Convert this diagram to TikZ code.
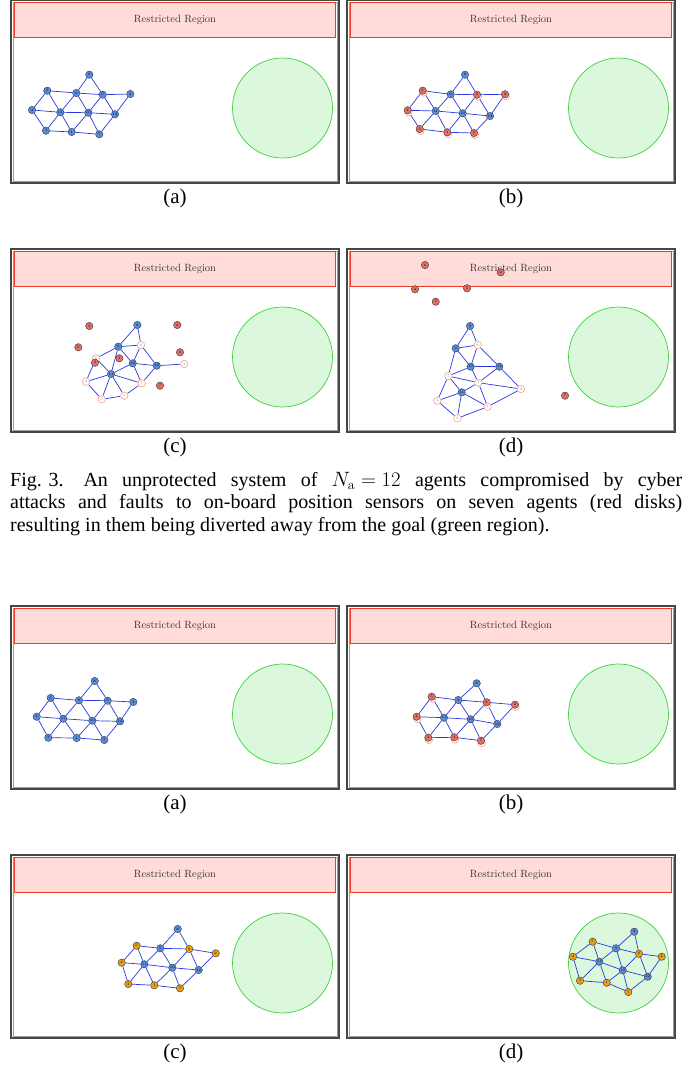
\documentclass[tikz,border=0pt]{standalone}
\usepackage{fontspec}
\newfontfamily\capfont{Liberation Serif}
\usetikzlibrary{calc}
\definecolor{agentblue}{HTML}{5A8CDC}
\definecolor{agentred}{HTML}{E86E5F}
\definecolor{agentorange}{HTML}{E6A117}
\definecolor{nodeedge}{HTML}{2E3440}
\definecolor{ghostpink}{HTML}{F2A091}
\definecolor{linkblue}{HTML}{2838E0}
\definecolor{zonefill}{HTML}{FFDCDA}
\definecolor{zoneedge}{HTML}{EB3C28}
\definecolor{goalfill}{HTML}{DCF8DC}
\definecolor{goaledge}{HTML}{3CD23C}
\pgfdeclarelayer{bg}
\pgfdeclarelayer{edges}
\pgfsetlayers{bg,edges,main}
\tikzset{
  agent/.style={circle,minimum size=7.4pt,inner sep=0pt,draw=nodeedge,line width=0.4pt,
    font=\fontsize{3.6}{4}\selectfont},
  healthy/.style={agent,fill=agentblue},
  attacked/.style={agent,fill=agentred},
  corrected/.style={agent,fill=agentorange},
  truepos/.style={agent,fill=white,draw=ghostpink,line width=0.6pt,text=gray},
  ghost/.style={agent,fill=white,draw=ghostpink,line width=0.6pt},
  link/.style={draw=linkblue,line width=0.7pt},
  frameout/.style={draw=gray!55!black,line width=1.3pt},
  framein/.style={draw=gray!75,line width=0.5pt},
  restricted/.style={draw=zoneedge,fill=zonefill,line width=0.8pt},
  goal/.style={draw=goaledge,fill=goalfill,line width=0.7pt},
  regionlbl/.style={font=\fontsize{10.5}{12}\selectfont,text=black!80},
  sublbl/.style={font=\capfont\fontsize{21}{24}\selectfont},
  capline/.style={anchor=base west,inner sep=0pt,font=\capfont\fontsize{20}{22}\selectfont}
}
% one panel: frame, restricted region, goal region, sub-label
\newcommand\panel[4]{%
  \begin{pgfonlayer}{bg}
    \draw[frameout] (#1,#2) rectangle ++(328,183);
    \draw[framein] (#1+2,#2+2) rectangle ++(324,179);
    \draw[restricted] (#1+3.5,#2+2.5) rectangle ++(320.5,34.5);
    \node[regionlbl] (#4zone) at (#1+164,#2+19.5) {Restricted Region};
    \draw[goal] (#1+271.5,#2+108) circle[radius=50pt];
  \end{pgfonlayer}
  \node[sublbl] (#4sub) at (#1+164,#2+198) {#3};
}
% links of the triangular formation
\newcommand\latticelinks[1]{%
  \begin{pgfonlayer}{edges}
    \foreach \u/\v in {8/9,8/6,5/9,9/6,6/2,5/4,5/11,9/11,9/10,6/10,6/12,2/12,4/11,11/10,
      10/12,4/3,11/3,11/1,10/1,10/7,12/7,3/1,1/7}
      \draw[link] (#1\u) -- (#1\v);
  \end{pgfonlayer}}

\begin{document}
\begin{tikzpicture}[x=1pt,y=-1pt]
\useasboundingbox (0,0) rectangle (694,1068);

% ---- Fig. 3 ----
\panel{11}{0}{(a)}{A}
\panel{347}{0}{(b)}{B}
\panel{11}{249}{(c)}{C}
\panel{347}{249}{(d)}{D}

% (a) formation at start
\foreach \n/\x/\y in {8/89.3/74.7,5/47.3/90.7,9/76.3/93,6/102.7/94.7,2/130.3/94,4/32/110,
  11/60.3/112.3,10/88.3/112.7,12/115/114.3,3/46/130.7,1/71.7/132,7/99.3/134.3}
  \node[healthy] (A\n) at (\x,\y) {\n};
\latticelinks{A}

% (b) seven agents attacked
\foreach \n/\x/\y in {8/465/74.7,9/450.7/94.3,11/435.7/111,10/462.7/113.3,12/490/116}
  \node[healthy] (B\n) at (\x,\y) {\n};
\foreach \n/\x/\y in {5/422.7/90.7,6/477/94.7,2/505/94.3,4/407.7/110.3,3/419.7/129,
  1/447.3/132.3,7/474/133}{
  \node[ghost] (Bg\n) at (\x+0.8,\y+1.8) {};
  \node[attacked] (B\n) at (\x,\y) {\n};
}
\latticelinks{B}

% (c) true positions drift, spoofed positions scatter
\foreach \n/\x/\y in {8/137.3/325,9/118.3/346.7,10/132.7/363.3,12/156.7/365.7,11/111/374}
  \node[healthy] (C\n) at (\x,\y) {\n};
\foreach \n/\x/\y in {6/141/345,5/96/358.3,2/184.3/364,4/86/381.7,7/141.7/383.3,
  3/101.7/399.3,1/124.3/395.7}
  \node[truepos] (C\n) at (\x,\y) {\n};
\foreach \n/\x/\y in {5/89.3/326,6/78.3/347.3,2/177.3/325,4/180/352.3,3/95/362.7,
  1/119.3/358.3,7/160/385.7}
  \node[attacked] (Cr\n) at (\x,\y) {\n};
\begin{pgfonlayer}{edges}
  \foreach \u/\v in {8/9,8/6,9/6,9/5,9/11,9/10,6/10,6/12,10/12,12/2,5/11,5/4,11/10,4/11,
    4/3,11/3,11/1,11/7,10/7,12/7,3/1,1/7}
    \draw[link] (C\u) -- (C\v);
\end{pgfonlayer}

% (d)
\foreach \n/\x/\y in {8/470/326,9/455.7/348.3,10/470.7/366.7,12/499.3/366.7,11/461.7/392.3}
  \node[healthy] (D\n) at (\x,\y) {\n};
\foreach \n/\x/\y in {6/477.7/345,5/448.3/376,7/478.3/382.7,2/521/389,4/437.3/400.7,
  1/487.7/406.7,3/457.3/418.3}
  \node[truepos] (D\n) at (\x,\y) {\n};
\foreach \n/\x/\y in {6/425/265,2/500.7/272.3,4/415/289.3,5/467/288.3,3/435.7/301.7,
  7/565/395.7}
  \node[attacked] (Dr\n) at (\x,\y) {\n};
\begin{pgfonlayer}{edges}
  \foreach \u/\v in {8/9,8/6,9/6,9/10,6/10,6/12,10/12,9/5,10/5,10/7,12/7,12/2,5/11,5/4,
    5/7,7/2,11/4,11/3,11/1,11/7,4/3,3/1,1/2,1/7}
    \draw[link] (D\u) -- (D\v);
\end{pgfonlayer}

% caption
\node[capline] (cap1) at (10,486)
  {\makebox[672pt][s]{\mbox{Fig. 3.\quad An} unprotected system of \mbox{$N_{\mathrm{a}} = 12$} agents compromised by cyber}};
\node[capline] (cap2) at (10,508.5)
  {\makebox[672pt][s]{attacks and faults to on-board position sensors on seven agents (red disks)}};
\node[capline] (cap3) at (10,531)
  {resulting in them being diverted away from the goal (green region).};

% ---- protected system ----
\panel{11}{606}{(a)}{E}
\panel{347}{606}{(b)}{F}
\panel{11}{855}{(c)}{G}
\panel{347}{855}{(d)}{H}

\foreach \n/\x/\y in {8/94.7/681,5/50.7/698,9/79/700.3,6/107.7/700.7,2/133.3/702,
  4/36.7/716.7,11/63.3/718.7,10/92.3/720.7,12/120/721.3,3/48.3/737.7,1/76.7/738,7/104.3/740}
  \node[healthy] (E\n) at (\x,\y) {\n};
\latticelinks{E}

\foreach \n/\x/\y in {8/476.7/683.3,9/458.3/700,11/444/717.7,10/470.7/719.3,12/497.3/724}
  \node[healthy] (F\n) at (\x,\y) {\n};
\foreach \n/\x/\y in {5/431.7/696.7,6/486.7/702.3,2/515/704.7,4/416.7/716.7,
  3/428.3/737.7,1/454.3/737.3,7/481/740.7}{
  \node[ghost] (Fg\n) at (\x+0.6,\y+2.2) {};
  \node[attacked] (F\n) at (\x,\y) {\n};
}
\latticelinks{F}

\foreach \n/\x/\y in {8/177.7/929,9/160.3/948.3,11/144.3/964.3,10/172.3/967.7,12/198.7/970}
  \node[healthy] (G\n) at (\x,\y) {\n};
\foreach \n/\x/\y in {5/136.7/945.7,6/189.3/949,2/215.7/953.3,4/121.7/962.7,
  3/128.3/984,1/154.3/985.3,7/180/988.3}
  \node[corrected] (G\n) at (\x,\y) {\n};
\latticelinks{G}

\foreach \n/\x/\y in {8/634.3/931.7,9/616/948.3,11/599.3/961.7,10/622.7/970.3,12/647.7/976.7}
  \node[healthy] (H\n) at (\x,\y) {\n};
\foreach \n/\x/\y in {5/592.7/941.7,6/639/953.7,2/661.7/956.7,4/573/956.7,
  3/580/980.7,1/606.7/982.7,7/628.3/992}
  \node[corrected] (H\n) at (\x,\y) {\n};
\latticelinks{H}
\end{tikzpicture}
\end{document}
